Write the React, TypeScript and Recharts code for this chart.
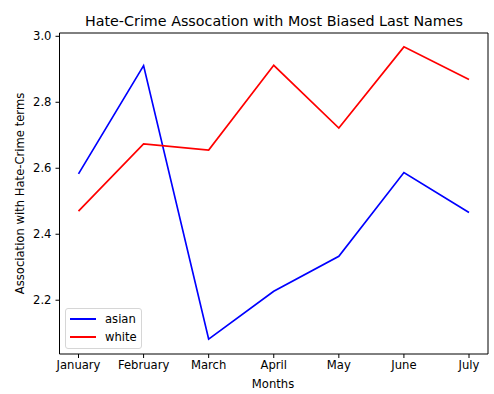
import React from "react";
import { LineChart, Line, XAxis, YAxis } from "recharts";

// monthly association scores per surname group
const months = ["January", "February", "March", "April", "May", "June", "July"];
const asian = [2.583, 2.911, 2.082, 2.227, 2.333, 2.587, 2.466];
const white = [2.47, 2.674, 2.655, 2.912, 2.722, 2.968, 2.869];
const yTicks = [2.2, 2.4, 2.6, 2.8, 3.0];

const rows = months.map((m, i) => ({ month: m, asian: asian[i], white: white[i] }));

const FONT = "DejaVu Sans, sans-serif";
const tickStyle = { fill: "#000", fontSize: 11.6, fontFamily: FONT };
const Y_DOMAIN: [number, number] = [2.037, 3.01];

const series = [
  { key: "asian", color: "#0000ff" },
  { key: "white", color: "#ff0000" },
];

const LegendBox = () => (
  <div
    style={{
      position: "absolute",
      left: 65,
      top: 308,
      width: 77,
      height: 41,
      border: "1px solid #d6d6d6",
      borderRadius: 3,
      background: "rgba(255,255,255,0.8)",
      padding: "1px 0 0 4px",
      fontFamily: FONT,
      fontSize: 11.6,
      lineHeight: "18px",
      boxSizing: "border-box",
    }}
  >
    {series.map((s) => (
      <div key={s.key} style={{ display: "flex", alignItems: "center" }}>
        <span style={{ display: "inline-block", width: 26, height: 2, background: s.color, marginRight: 9 }} />
        <span>{s.key}</span>
      </div>
    ))}
  </div>
);

export default function App() {
  return (
    <div style={{ position: "absolute", left: 0, top: 0, width: 494, height: 394, background: "#fff" }}>
      <LineChart width={494} height={394} data={rows} margin={{ top: 32, right: 5, bottom: 0, left: 0 }}>
        <text x={274} y={26} textAnchor="middle" fontSize={14.3} fontFamily={FONT} fill="#000">
          Hate-Crime Assocation with Most Biased Last Names
        </text>
        <text x={273} y={388} textAnchor="middle" fontSize={11.6} fontFamily={FONT} fill="#000">
          Months
        </text>
        <text
          x={24}
          y={193.5}
          textAnchor="middle"
          fontSize={11.6}
          fontFamily={FONT}
          fill="#000"
          transform="rotate(-90 24 193.5)"
        >
          Association with Hate-Crime terms
        </text>
        <XAxis
          dataKey="month"
          padding={{ left: 19, right: 19 }}
          height={40}
          interval={0}
          tick={tickStyle}
          tickSize={4}
          tickMargin={3}
          axisLine={{ stroke: "#000", strokeWidth: 1 }}
          tickLine={{ stroke: "#000" }}
        />
        {/* top and right spines close the frame */}
        <XAxis
          xAxisId="top"
          orientation="top"
          dataKey="month"
          padding={{ left: 19, right: 19 }}
          height={1}
          tick={false}
          tickLine={false}
          axisLine={{ stroke: "#000", strokeWidth: 1 }}
        />
        <YAxis
          type="number"
          domain={Y_DOMAIN}
          ticks={yTicks}
          allowDataOverflow
          width={59.5}
          tick={tickStyle}
          tickSize={4}
          tickMargin={4}
          tickFormatter={(v: number) => v.toFixed(1)}
          axisLine={{ stroke: "#000", strokeWidth: 1 }}
          tickLine={{ stroke: "#000" }}
        />
        <YAxis
          yAxisId="right"
          orientation="right"
          type="number"
          domain={Y_DOMAIN}
          allowDataOverflow
          width={1}
          tick={false}
          tickLine={false}
          axisLine={{ stroke: "#000", strokeWidth: 1 }}
        />
        <Line xAxisId="top" yAxisId="right" dataKey="asian" stroke="none" dot={false} legendType="none" isAnimationActive={false} />
        {series.map((s) => (
          <Line key={s.key} dataKey={s.key} stroke={s.color} strokeWidth={1.7} dot={false} isAnimationActive={false} />
        ))}
      </LineChart>
      <LegendBox />
    </div>
  );
}
